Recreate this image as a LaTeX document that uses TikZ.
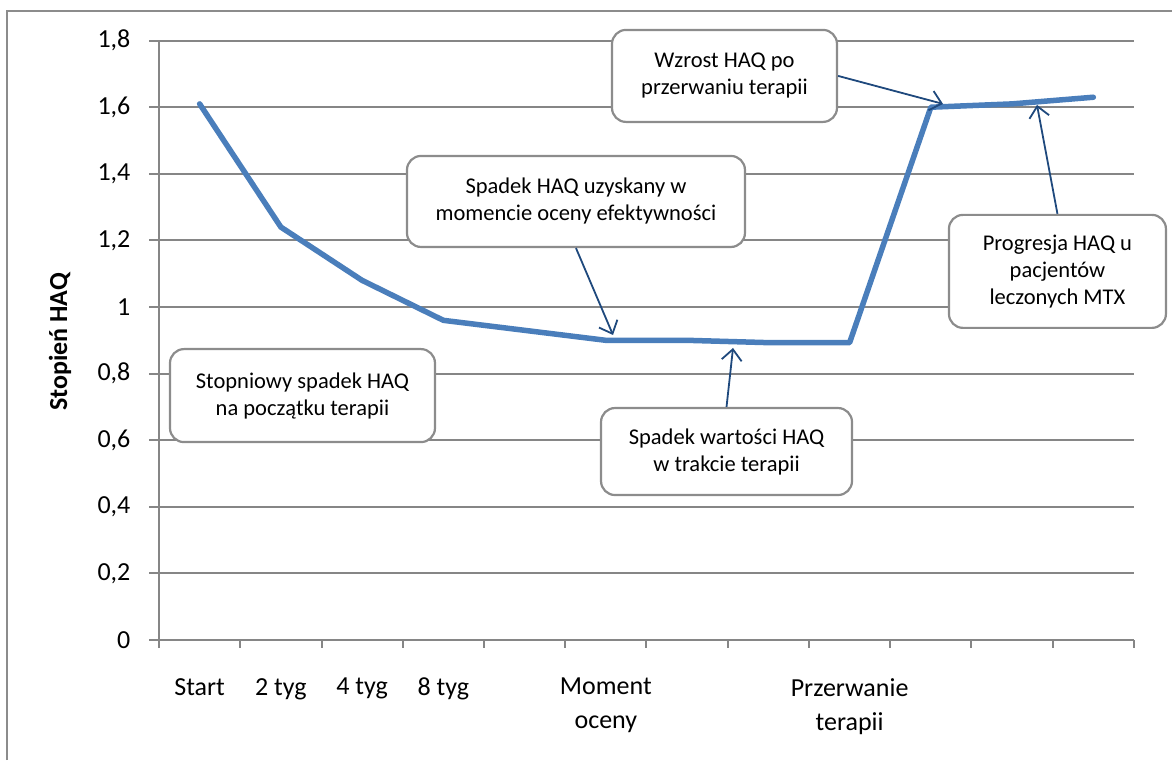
\documentclass[tikz,border=0pt]{standalone}
\usepackage{fontspec}
\setmainfont{Carlito}
\usetikzlibrary{arrows.meta}
\definecolor{haqblue}{RGB}{74,126,187}
\definecolor{arrowblue}{RGB}{31,73,125}
\definecolor{gridgray}{RGB}{134,134,134}
\definecolor{boxgray}{RGB}{140,140,140}
\tikzset{
  callout/.style={draw=boxgray, line width=2.2pt, rounded corners=14pt, fill=white, align=center, inner sep=0pt, font=\fontsize{22.5}{27}\selectfont},
  pointer/.style={draw=arrowblue, line width=1.8pt, -{Straight Barb[length=11pt,width=20pt]}},
  axislabel/.style={inner sep=0pt, font=\fontsize{26}{34}\selectfont},
  gridline/.style={draw=gridgray, line width=2pt},
  haqline/.style={draw=haqblue, line width=5.5pt, line join=round, line cap=round}
}
\begin{document}
\begin{tikzpicture}[x=81.25pt,y=333pt]
        \useasboundingbox (-1.957,-0.3604) rectangle (12.468,1.922);
        \draw[boxgray, line width=2pt] (-1.871,-0.3604) -- (-1.871,1.889) -- (12.468,1.889);
        \foreach \v/\t [count=\k] in {0/0, 0.2/{0,2}, 0.4/{0,4}, 0.6/{0,6}, 0.8/{0,8}, 1/1, 1.2/{1,2}, 1.4/{1,4}, 1.6/{1,6}, 1.8/{1,8}}{
          \draw[gridline] (-0.123,\v) -- (12,\v);
          \node[axislabel, anchor=east] (ytick\k) at (-0.35,\v) {\t};
        }
        \draw[gridline] (0,-0.024) -- (0,1.8);
        \foreach \i in {1,...,12}
          \draw[gridline] (\i,0) -- (\i,-0.024);
        \foreach \i/\t in {0/Start, 1/2 tyg, 2/4 tyg, 3/8 tyg, 5/Moment\\oceny, 8/Przerwanie\\terapii}
          \node[axislabel, align=center, anchor=north] (cat\i) at (\i+0.5,-0.114) {\t};
        \node[font=\bfseries\fontsize{26}{30}\selectfont, rotate=90] (ytitle) at (-1.218,0.895) {Stopień HAQ};
        \draw[haqline] (0.5,1.61) -- (1.5,1.24) -- (2.5,1.08) -- (3.5,0.96) -- (4.5,0.93) -- (5.5,0.90)
          -- (6.5,0.90) -- (7.5,0.893) -- (8.5,0.893) -- (9.5,1.60) -- (10.5,1.61) -- (11.5,1.63);
        \node[callout, minimum width=225pt, minimum height=92pt] (wzrost) at (6.96,1.694) {Wzrost HAQ po\\przerwaniu terapii};
        \node[callout, minimum width=338pt, minimum height=91pt] (ocena) at (5.132,1.317) {Spadek HAQ uzyskany w\\momencie oceny efektywności};
        \node[callout, minimum width=217pt, minimum height=113pt] (progresja) at (11.058,1.107) {Progresja HAQ u\\pacjentów\\leczonych MTX};
        \node[callout, minimum width=265pt, minimum height=93pt] (stopniowy) at (1.766,0.734) {Stopniowy spadek HAQ\\na początku terapii};
        \node[callout, minimum width=251pt, minimum height=87pt] (wterapii) at (6.985,0.566) {Spadek wartości HAQ\\w trakcie terapii};
        \coordinate (tipwzrost) at (9.649,1.610);
        \coordinate (tipocena) at (5.588,0.916);
        \coordinate (tipprogresja) at (10.806,1.607);
        \coordinate (tipwterapii) at (7.065,0.877);
        \draw[pointer] (wzrost.east) -- (tipwzrost);
        \draw[pointer] (ocena.south) -- (tipocena);
        \draw[pointer] (progresja.north) -- (tipprogresja);
        \draw[pointer] (wterapii.north) -- (tipwterapii);
\end{tikzpicture}
\end{document}
